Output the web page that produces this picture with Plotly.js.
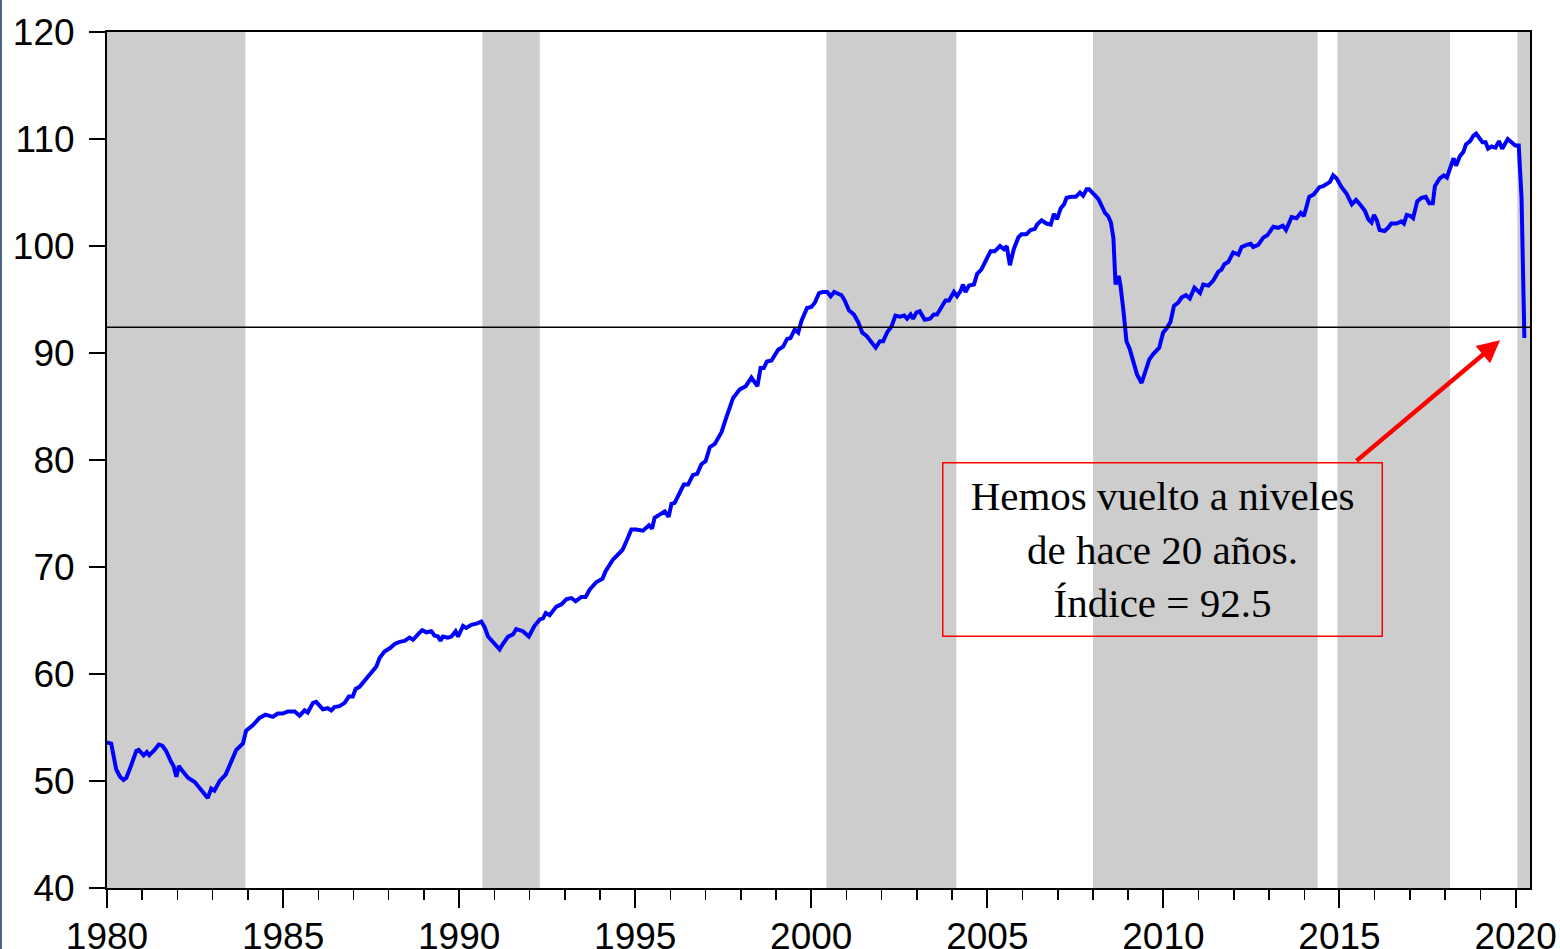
<!DOCTYPE html>
<html>
<head>
<meta charset="utf-8">
<script src="https://cdn.plot.ly/plotly-3.0.1.min.js"></script>
<style>
  html, body { margin: 0; padding: 0; background: #ffffff; }
  #chart { width: 1560px; height: 949px; }
  #edge { position: absolute; left: 0; top: 0; width: 2px; height: 949px; background: #4a6585; z-index: 10; }
</style>
</head>
<body>
<div id="edge"></div>
<div id="chart"></div>
<script>
// ---- Data ----
const years = [
1980.00,1980.12,1980.26,1980.37,1980.47,1980.55,1980.69,1980.83,1980.90,1981.04,1981.13,1981.20,1981.35,1981.47,1981.57,1981.68,1981.82,1981.89,1981.97,
1982.04,1982.15,1982.30,1982.49,1982.63,1982.74,1982.86,1982.96,1983.05,1983.20,1983.37,1983.53,1983.67,1983.86,1983.95,
1984.14,1984.33,1984.50,1984.71,1984.85,1984.99,1985.14,1985.33,1985.47,1985.61,1985.70,1985.85,1985.94,
1986.13,1986.27,1986.37,1986.46,1986.60,1986.75,1986.87,1986.98,1987.06,1987.17,1987.36,1987.55,1987.65,1987.74,1987.88,
1988.03,1988.17,1988.31,1988.45,1988.59,1988.69,1988.83,1988.95,1989.07,1989.21,1989.30,1989.40,1989.47,1989.54,1989.68,1989.78,1989.90,1989.97,
1990.11,1990.20,1990.35,1990.49,1990.63,1990.72,1990.82,1990.96,1991.15,1991.24,1991.39,1991.53,1991.62,1991.81,1991.98,
1992.14,1992.29,1992.38,1992.46,1992.57,1992.76,1992.90,1993.05,1993.19,1993.31,1993.47,1993.59,1993.71,1993.90,
1994.07,1994.16,1994.37,1994.51,1994.64,1994.75,1994.89,1995.03,1995.22,1995.39,1995.48,1995.55,1995.70,1995.84,1995.95,
1996.03,1996.12,1996.26,1996.38,1996.50,1996.64,1996.76,1996.88,1997.00,1997.12,1997.26,1997.45,1997.59,1997.78,1997.97,
1998.14,1998.30,1998.47,1998.56,1998.65,1998.74,1998.87,1999.06,1999.20,1999.31,1999.41,1999.53,1999.63,1999.72,1999.88,
2000.00,2000.10,2000.22,2000.33,2000.45,2000.55,2000.65,2000.76,2000.86,2000.95,2001.07,2001.21,2001.33,2001.45,2001.57,2001.71,2001.83,2001.95,
2002.04,2002.15,2002.28,2002.39,2002.51,2002.64,2002.72,2002.82,2002.89,2002.99,2003.08,2003.22,2003.37,2003.48,2003.57,2003.70,2003.81,2003.91,
2004.05,2004.14,2004.24,2004.31,2004.38,2004.48,2004.62,2004.71,2004.83,2004.98,2005.09,2005.21,2005.36,2005.47,2005.55,2005.64,2005.75,2005.88,2005.97,
2006.11,2006.23,2006.35,2006.41,2006.54,2006.68,2006.80,2006.89,2006.98,2007.08,2007.18,2007.25,2007.39,2007.51,2007.63,2007.72,2007.82,2007.89,
2008.01,2008.15,2008.24,2008.34,2008.43,2008.51,2008.58,2008.64,2008.73,2008.78,2008.86,2008.95,2009.04,2009.14,2009.25,2009.38,2009.47,2009.60,2009.71,2009.88,2009.99,
2010.09,2010.20,2010.30,2010.42,2010.52,2010.64,2010.75,2010.88,2011.04,2011.13,2011.28,2011.42,2011.56,2011.65,2011.73,2011.84,2011.98,
2012.13,2012.22,2012.36,2012.48,2012.55,2012.69,2012.84,2012.95,2013.12,2013.26,2013.39,2013.48,2013.64,2013.78,2013.90,2013.99,
2014.14,2014.26,2014.43,2014.54,2014.64,2014.73,2014.82,2014.92,2015.06,2015.20,2015.35,2015.47,2015.58,2015.72,2015.82,2015.91,2015.98,
2016.06,2016.14,2016.28,2016.38,2016.47,2016.62,2016.76,2016.83,2016.91,2017.02,2017.09,2017.21,2017.33,2017.45,2017.55,2017.65,2017.71,2017.84,2017.96,
2018.05,2018.12,2018.24,2018.31,2018.42,2018.52,2018.59,2018.71,2018.80,2018.88,2018.96,2019.06,2019.15,2019.22,2019.32,2019.43,2019.53,2019.62,2019.78,2019.93,2019.99,
2020.09,2020.17,2020.25
];
const indexValues = [
53.6,53.5,51.1,50.4,50.1,50.3,51.5,52.8,52.9,52.4,52.7,52.4,52.9,53.4,53.3,52.8,51.8,51.4,50.4,
51.4,50.9,50.3,49.9,49.4,48.9,48.4,49.3,49.1,50.0,50.6,51.8,52.9,53.5,54.7,
55.2,55.9,56.2,56.0,56.3,56.3,56.5,56.5,56.1,56.6,56.4,57.3,57.4,
56.7,56.8,56.6,56.9,57.0,57.3,57.9,57.9,58.6,58.8,59.6,60.4,60.7,61.5,62.1,
62.4,62.8,63.0,63.1,63.4,63.2,63.7,64.1,63.9,64.0,63.6,63.5,63.1,63.5,63.4,63.5,64.0,63.5,
64.5,64.3,64.6,64.7,64.9,64.4,63.5,63.0,62.3,62.8,63.5,63.7,64.2,64.0,63.5,
64.5,65.1,65.2,65.7,65.5,66.3,66.5,67.0,67.1,66.8,67.2,67.2,67.9,68.6,
68.9,69.6,70.7,71.2,71.6,72.4,73.5,73.5,73.4,73.9,73.6,74.6,74.9,75.2,74.7,
75.9,76.0,77.0,77.7,77.7,78.6,78.7,79.6,79.9,81.2,81.5,82.6,84.0,85.8,86.6,
86.9,87.7,86.9,88.6,88.6,89.2,89.3,90.3,90.6,91.3,91.4,92.2,91.9,93.0,94.2,
94.3,94.7,95.6,95.7,95.7,95.3,95.7,95.5,95.4,94.9,94.0,93.6,92.9,91.9,91.6,91.0,90.5,91.1,
91.1,91.9,92.5,93.5,93.4,93.5,93.2,93.6,93.2,93.8,93.9,93.1,93.2,93.6,93.6,94.3,94.9,94.9,
95.7,95.3,95.8,96.4,95.7,96.3,96.4,97.4,97.8,98.8,99.5,99.5,100.0,99.7,100.0,98.2,99.7,100.8,101.1,
101.1,101.5,101.6,102.0,102.4,102.1,102.0,103.0,102.5,103.5,103.9,104.5,104.6,104.6,105.0,104.7,105.3,105.3,
104.9,104.4,103.8,103.1,102.8,102.2,100.7,96.4,97.2,96.3,94.1,91.1,90.4,89.1,88.0,87.2,88.1,89.4,89.9,90.5,91.9,
92.3,92.9,94.4,94.7,95.2,95.4,95.1,96.1,95.6,96.4,96.3,96.8,97.6,97.8,98.3,98.5,99.4,
99.2,99.9,100.1,100.2,99.9,100.1,100.8,101.0,101.8,101.7,101.9,101.5,102.7,102.6,103.1,102.8,
104.6,104.8,105.5,105.6,105.8,106.0,106.6,106.3,105.5,104.9,103.9,104.3,103.9,103.3,102.5,102.2,102.9,
102.4,101.5,101.4,101.7,102.1,102.1,102.3,102.1,102.9,102.8,102.6,104.2,104.5,104.6,104.0,104.0,105.6,106.3,106.6,
106.4,107.0,108.2,107.5,108.4,108.8,109.5,109.8,110.3,110.5,110.2,109.7,109.7,109.1,109.3,109.2,109.8,109.1,110.0,109.6,109.4,
109.4,104.5,91.4
];
// Shaded periods (start, end in years)
const shadeStart = [1980.0, 1990.66, 2000.43, 2008.0, 2014.94, 2020.05];
const shadeEnd   = [1983.93, 1992.29, 2004.12, 2014.38, 2018.14, 2020.41];
// Reference level
const referenceLevel = 92.4;
const noteText = "Hemos vuelto a niveles<br>de hace 20 años.<br>Índice = 92.5";
const noteX = 2009.96, noteY = 71.65;
const arrowHead = [2019.56, 91.2];
const arrowTail = [2015.44, 79.8];
const xRange = [1980, 2020.41];
const yRange = [40, 120];

const shapes = [];
for (let i = 0; i < shadeStart.length; i++) {
  shapes.push({
    type: 'rect', layer: 'below', xref: 'x', yref: 'paper',
    x0: shadeStart[i], x1: shadeEnd[i], y0: 0, y1: 1,
    fillcolor: '#cdcdcd', line: { width: 0 }
  });
}
shapes.push({
  type: 'line', layer: 'above', xref: 'paper', yref: 'y',
  x0: 0, x1: 1, y0: referenceLevel, y1: referenceLevel,
  line: { color: '#000000', width: 1.5 }
});

const trace = {
  x: years, y: indexValues, type: 'scatter', mode: 'lines',
  line: { color: '#0000ff', width: 4 },
  hoverinfo: 'skip', showlegend: false
};

const tickFont = { family: 'Liberation Sans, Arial, sans-serif', size: 37, color: '#000000' };

const layout = {
  width: 1560, height: 949,
  margin: { l: 107, r: 30, t: 32, b: 61 },
  paper_bgcolor: '#ffffff', plot_bgcolor: '#ffffff',
  showlegend: false,
  xaxis: {
    range: xRange, showgrid: false, zeroline: false,
    showline: true, linecolor: '#000000', linewidth: 2, mirror: true,
    ticks: 'outside', ticklen: 18, tickwidth: 2, tickcolor: '#000000',
    tickmode: 'linear', tick0: 1980, dtick: 5,
    tickfont: tickFont, ticklabelstandoff: -3,
    minor: { dtick: 1, tick0: 1980, ticks: 'outside', ticklen: 10, tickwidth: 1.5, tickcolor: '#000000', showgrid: false }
  },
  yaxis: {
    range: yRange, showgrid: false, zeroline: false,
    showline: true, linecolor: '#000000', linewidth: 2, mirror: true,
    ticks: 'outside', ticklen: 16, tickwidth: 2, tickcolor: '#000000',
    tickmode: 'linear', tick0: 40, dtick: 10,
    tickfont: tickFont, ticklabelstandoff: 7
  },
  shapes: shapes,
  annotations: [
    {
      x: noteX, y: noteY, xref: 'x', yref: 'y',
      text: noteText, showarrow: false,
      xanchor: 'center', yanchor: 'middle',
      font: { family: 'Liberation Serif, Times New Roman, serif', size: 41, color: '#000000' },
      align: 'center', valign: 'middle',
      width: 436, height: 170,
      bordercolor: '#ff0000', borderwidth: 1.5, borderpad: 1,
      bgcolor: 'rgba(0,0,0,0)'
    },
    {
      x: arrowHead[0], y: arrowHead[1], xref: 'x', yref: 'y',
      ax: arrowTail[0], ay: arrowTail[1], axref: 'x', ayref: 'y',
      text: '', showarrow: true,
      arrowcolor: '#ff0000', arrowwidth: 4.5, arrowhead: 2, arrowsize: 1, standoff: 0
    }
  ]
};

Plotly.newPlot('chart', [trace], layout, { staticPlot: true, displayModeBar: false });
</script>
</body>
</html>
